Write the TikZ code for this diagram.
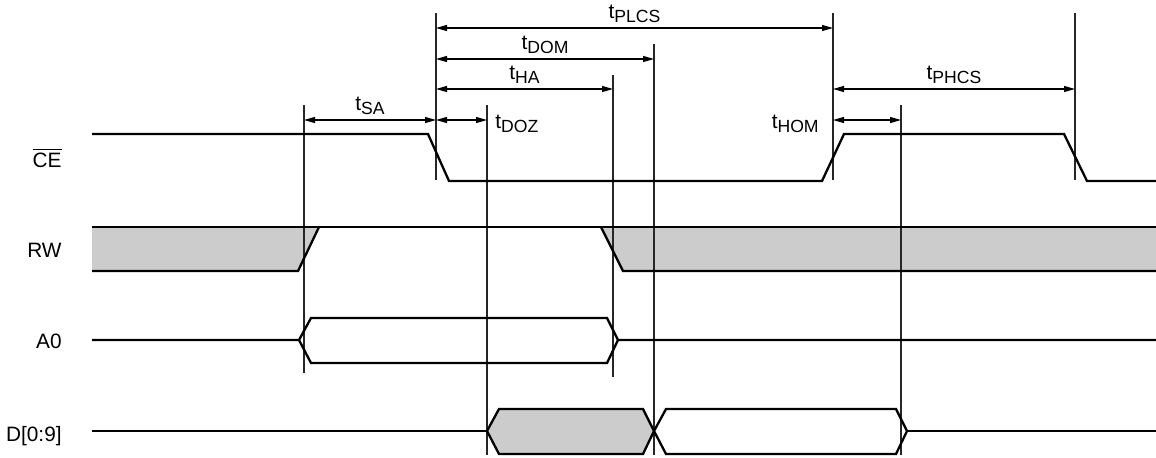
\documentclass[tikz,border=0pt]{standalone}
\usepackage{fontspec}
\setmainfont{Liberation Sans}
\usetikzlibrary{arrows.meta}

\definecolor{busgray}{RGB}{204,204,204}
\newcommand{\tsub}[1]{t\raisebox{-2pt}{\fontsize{8.8}{10}\selectfont #1}}

\tikzset{
  sig/.style={line width=1.15pt, black, line join=miter},
  guide/.style={line width=0.55pt, black!85},
  dim/.style={line width=0.6pt, {Triangle[length=5.5pt,width=3pt]}-{Triangle[length=5.5pt,width=3pt]}},
  lbl/.style={font=\fontsize{10.4}{12}\selectfont, inner sep=1pt},
  tlbl/.style={lbl, inner sep=2.5pt}
}

\begin{document}
\begin{tikzpicture}[x=0.5pt,y=-0.5pt]
\useasboundingbox (0,0) rectangle (1156,457);

% signal names
\node[lbl, anchor=base east] (ce) at (64,167) {$\overline{\mbox{CE}}$};
\node[lbl, anchor=base east] (rw) at (64,257) {RW};
\node[lbl, anchor=base east] (a0) at (64,348) {A0};
\node[lbl, anchor=base east] (d) at (64,441) {D[0:9]};

% gray fills
\fill[busgray] (92,227) -- (319,227) -- (298,271) -- (92,271) -- cycle;
\fill[busgray] (601,227) -- (1156,227) -- (1156,271) -- (623,271) -- cycle;
\fill[busgray] (487,431) -- (499,409) -- (643,409) -- (654,431) -- (643,454) -- (499,454) -- cycle;

% guide lines
\draw[guide] (304,105) -- (304,373);
\draw[guide] (436,13) -- (436,180);
\draw[guide] (487,105) -- (487,455);
\draw[guide] (613,75) -- (613,377);
\draw[guide] (654,44) -- (654,455);
\draw[guide] (833,13) -- (833,180);
\draw[guide] (901,105) -- (901,455);
\draw[guide] (1075,13) -- (1075,180);

% CE
\draw[sig] (92,134) -- (428,134) -- (449,181) -- (822,181) -- (844,134) -- (1064,134) -- (1087,181) -- (1156,181);

% RW
\draw[sig] (92,227) -- (1156,227);
\draw[sig] (92,271) -- (298,271) -- (319,227);
\draw[sig] (601,227) -- (623,271) -- (1156,271);

% A0
\draw[sig] (92,340) -- (299,340) -- (311,318) -- (607,318) -- (618,340) -- (1156,340);
\draw[sig] (299,340) -- (311,363) -- (607,363) -- (618,340);

% D[0:9]
\draw[sig] (92,431) -- (487,431);
\draw[sig] (487,431) -- (499,409) -- (643,409) -- (654,431) -- (643,454) -- (499,454) -- cycle;
\draw[sig] (654,431) -- (666,409) -- (896,409) -- (907,431) -- (896,454) -- (666,454) -- cycle;
\draw[sig] (907,431) -- (1156,431);

% timing marks
\coordinate (plcs-l) at (436,28);
\coordinate (plcs-r) at (833,28);
\coordinate (dom-l) at (436,59);
\coordinate (dom-r) at (654,59);
\coordinate (ha-l) at (436,89);
\coordinate (ha-r) at (613,89);
\coordinate (sa-l) at (304,120);
\coordinate (sa-r) at (436,120);
\coordinate (doz-l) at (436,120);
\coordinate (doz-r) at (487,120);
\coordinate (phcs-l) at (833,89);
\coordinate (phcs-r) at (1075,89);
\coordinate (hom-l) at (833,120);
\coordinate (hom-r) at (901,120);

\draw[dim] (plcs-l) -- (plcs-r) node[midway, above, tlbl] (tplcs) {\tsub{PLCS}};
\draw[dim] (dom-l) -- (dom-r) node[midway, above, tlbl] (tdom) {\tsub{DOM}};
\draw[dim] (ha-l) -- (ha-r) node[midway, above, tlbl] (tha) {\tsub{HA}};
\draw[dim] (sa-l) -- (sa-r) node[midway, above, tlbl] (tsa) {\tsub{SA}};
\draw[dim] (doz-l) -- (doz-r);
\draw[dim] (phcs-l) -- (phcs-r) node[midway, above, tlbl] (tphcs) {\tsub{PHCS}};
\draw[dim] (hom-l) -- (hom-r);

\node[lbl, anchor=base west] (tdoz) at (493,128) {\tsub{DOZ}};
\node[lbl, anchor=base east] (thom) at (821,128) {\tsub{HOM}};

\end{tikzpicture}
\end{document}
